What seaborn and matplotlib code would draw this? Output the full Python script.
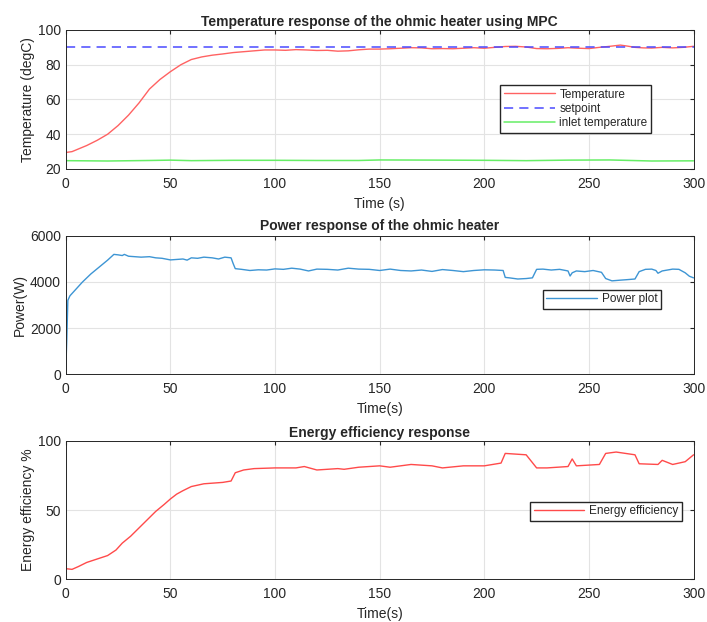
import numpy as np
import pandas as pd
import seaborn as sns
import matplotlib.pyplot as plt

# temperature response
temp_t = [0, 3, 6, 10, 15, 20, 25, 30, 35, 40, 45, 50, 55, 60, 65, 70, 75, 80, 85, 90,
          95, 100, 105, 110, 115, 120, 125, 130, 135, 140, 145, 150, 155, 160, 165, 170,
          175, 180, 185, 190, 195, 200, 205, 210, 215, 220, 225, 230, 235, 240, 245, 250,
          255, 260, 265, 268, 272, 276, 280, 285, 290, 295, 300]
temp_v = [29.5, 30, 31.5, 33.5, 36.5, 40, 45, 51, 58, 66, 71.5, 76, 80, 83, 84.5, 85.5,
          86.2, 87, 87.5, 88, 88.5, 88.5, 88.3, 88.7, 88.5, 88.2, 88.3, 87.8, 88, 88.6, 89,
          89, 89.2, 89.5, 89.8, 89.7, 89.2, 89.3, 89.2, 89.5, 89.8, 89.5, 90, 90.5, 90.6,
          90.2, 89.3, 89.2, 89.4, 89.8, 89.5, 89.3, 90, 90.6, 91.3, 90.8, 90, 89.7, 89.6,
          90, 89.7, 90.0, 90.6]
setpoint_t = [0, 300]
setpoint_v = [90, 90]
inlet_t = [0, 20, 40, 50, 60, 80, 100, 120, 140, 150, 180, 200, 220, 240, 260, 270, 280, 300]
inlet_v = [24.8, 24.6, 24.9, 25.1, 24.8, 25.0, 25.0, 24.9, 24.9, 25.2, 25.1, 25.0, 24.8,
           25.1, 25.2, 24.9, 24.6, 24.7]

# power response
power_t = [0, 0.5, 1, 2, 4, 8, 12, 16, 20, 23, 25, 27, 28, 30, 33, 36, 40, 43, 46, 50, 53,
           56, 58, 60, 63, 66, 70, 73, 76, 79, 80, 81, 84, 88, 92, 96, 100, 104, 108, 112,
           116, 120, 125, 130, 135, 140, 145, 150, 155, 160, 165, 170, 175, 180, 185, 190,
           195, 200, 205, 209, 210, 212, 216, 220, 223, 225, 228, 232, 236, 240, 241, 242,
           244, 248, 252, 256, 258, 261, 265, 268, 272, 274, 277, 280, 282, 283, 285, 290,
           293, 296, 298, 300]
power_v = [150, 1500, 3200, 3400, 3600, 4000, 4350, 4650, 4950, 5200, 5180, 5150, 5200,
           5120, 5100, 5080, 5100, 5050, 5030, 4960, 4980, 5000, 4950, 5050, 5030, 5080,
           5050, 5000, 5080, 5050, 4800, 4580, 4550, 4500, 4530, 4520, 4570, 4550, 4600,
           4560, 4480, 4560, 4550, 4520, 4600, 4560, 4550, 4500, 4560, 4500, 4480, 4520,
           4460, 4540, 4500, 4450, 4500, 4530, 4520, 4500, 4200, 4180, 4130, 4150, 4180,
           4550, 4560, 4520, 4550, 4480, 4260, 4400, 4480, 4450, 4500, 4420, 4150, 4050,
           4080, 4100, 4130, 4450, 4550, 4560, 4500, 4380, 4480, 4560, 4550, 4400, 4250, 4180]

# energy efficiency response
eff_t = [0, 3, 6, 10, 15, 20, 24, 27, 31, 35, 39, 43, 47, 50, 53, 56, 60, 66, 75, 79, 80,
         81, 85, 90, 100, 110, 114, 120, 130, 133, 140, 150, 155, 165, 175, 180, 190, 200,
         208, 210, 215, 220, 225, 230, 240, 242, 244, 255, 258, 263, 272, 274, 283, 285,
         290, 296, 300]
eff_v = [7.5, 7, 9, 12, 14.5, 17, 21, 26, 31, 37, 43, 49, 54, 58, 61.5, 64, 67, 69, 70,
         71, 74, 77, 79, 80, 80.5, 80.5, 81.5, 79, 80, 79.5, 81, 82, 81, 83, 82, 80.5, 82,
         82, 84, 91, 90.5, 90, 80.5, 80.5, 81.5, 87, 82, 83, 91, 92, 90, 83.5, 83, 86, 83,
         85, 90]

sns.set_style("white")
plt.rcParams["font.family"] = ["Liberation Sans", "DejaVu Sans"]
plt.rcParams["font.size"] = 10

fig = plt.figure(figsize=(7.07, 6.22), dpi=100)
ax1 = fig.add_axes([0.093, 0.7283, 0.888, 0.2235])
ax2 = fig.add_axes([0.093, 0.3987, 0.888, 0.2219])
ax3 = fig.add_axes([0.093, 0.0691, 0.888, 0.2219])

sns.lineplot(x=temp_t, y=temp_v, ax=ax1, color="#ff6262", lw=1.0, label="Temperature")
sns.lineplot(x=setpoint_t, y=setpoint_v, ax=ax1, color="#4a4aff", lw=1.1,
             linestyle=(0, (6, 4)), label="setpoint")
sns.lineplot(x=inlet_t, y=inlet_v, ax=ax1, color="#66ee66", lw=1.1, label="inlet temperature")
sns.lineplot(x=power_t, y=power_v, ax=ax2, color="#3d95d4", lw=1.0, label="Power plot")
sns.lineplot(x=eff_t, y=eff_v, ax=ax3, color="#ff4a4a", lw=1.0, label="Energy efficiency")

ax1.set_ylim(20, 100)
ax1.set_yticks([20, 40, 60, 80, 100])
ax2.set_ylim(0, 6000)
ax2.set_yticks([0, 2000, 4000, 6000])
ax3.set_ylim(0, 100)
ax3.set_yticks([0, 50, 100])

ax1.set_title("Temperature response of the ohmic heater using MPC", fontweight="bold", fontsize=10, pad=3)
ax2.set_title("Power response of the ohmic heater", fontweight="bold", fontsize=10, pad=4)
ax3.set_title("Energy efficiency response", fontweight="bold", fontsize=10, pad=3)
ax1.set_xlabel("Time (s)")
ax1.set_ylabel("Temperature (degC)", labelpad=2)
ax2.set_xlabel("Time(s)")
ax2.set_ylabel("Power(W)", labelpad=2)
ax3.set_xlabel("Time(s)")
ax3.set_ylabel("Energy efficiency %", labelpad=2)

for ax in (ax1, ax2, ax3):
    ax.set_xlim(0, 300)
    ax.set_xticks([0, 50, 100, 150, 200, 250, 300])
    ax.grid(True, color="#e3e3e3", lw=0.8)
    ax.tick_params(direction="in", top=True, right=True, length=3, labelsize=10, colors="#262626")
    ax.tick_params(axis="x", pad=6)
    for s in ax.spines.values():
        s.set_color("#262626")
        s.set_linewidth(0.7)
    ax.xaxis.label.set_color("#262626")
    ax.yaxis.label.set_color("#262626")

leg_kw = dict(frameon=True, fancybox=False, edgecolor="#262626", framealpha=1,
              fontsize=8.5, handlelength=4.3, borderpad=0.3, labelspacing=0.2,
              handletextpad=0.4, loc="center left")
ax1.legend(bbox_to_anchor=(0.683, 0.432), **leg_kw)
ax2.legend(bbox_to_anchor=(0.75, 0.54), **leg_kw)
ax3.legend(bbox_to_anchor=(0.73, 0.49), **leg_kw)

plt.savefig("out.png", dpi=100)
